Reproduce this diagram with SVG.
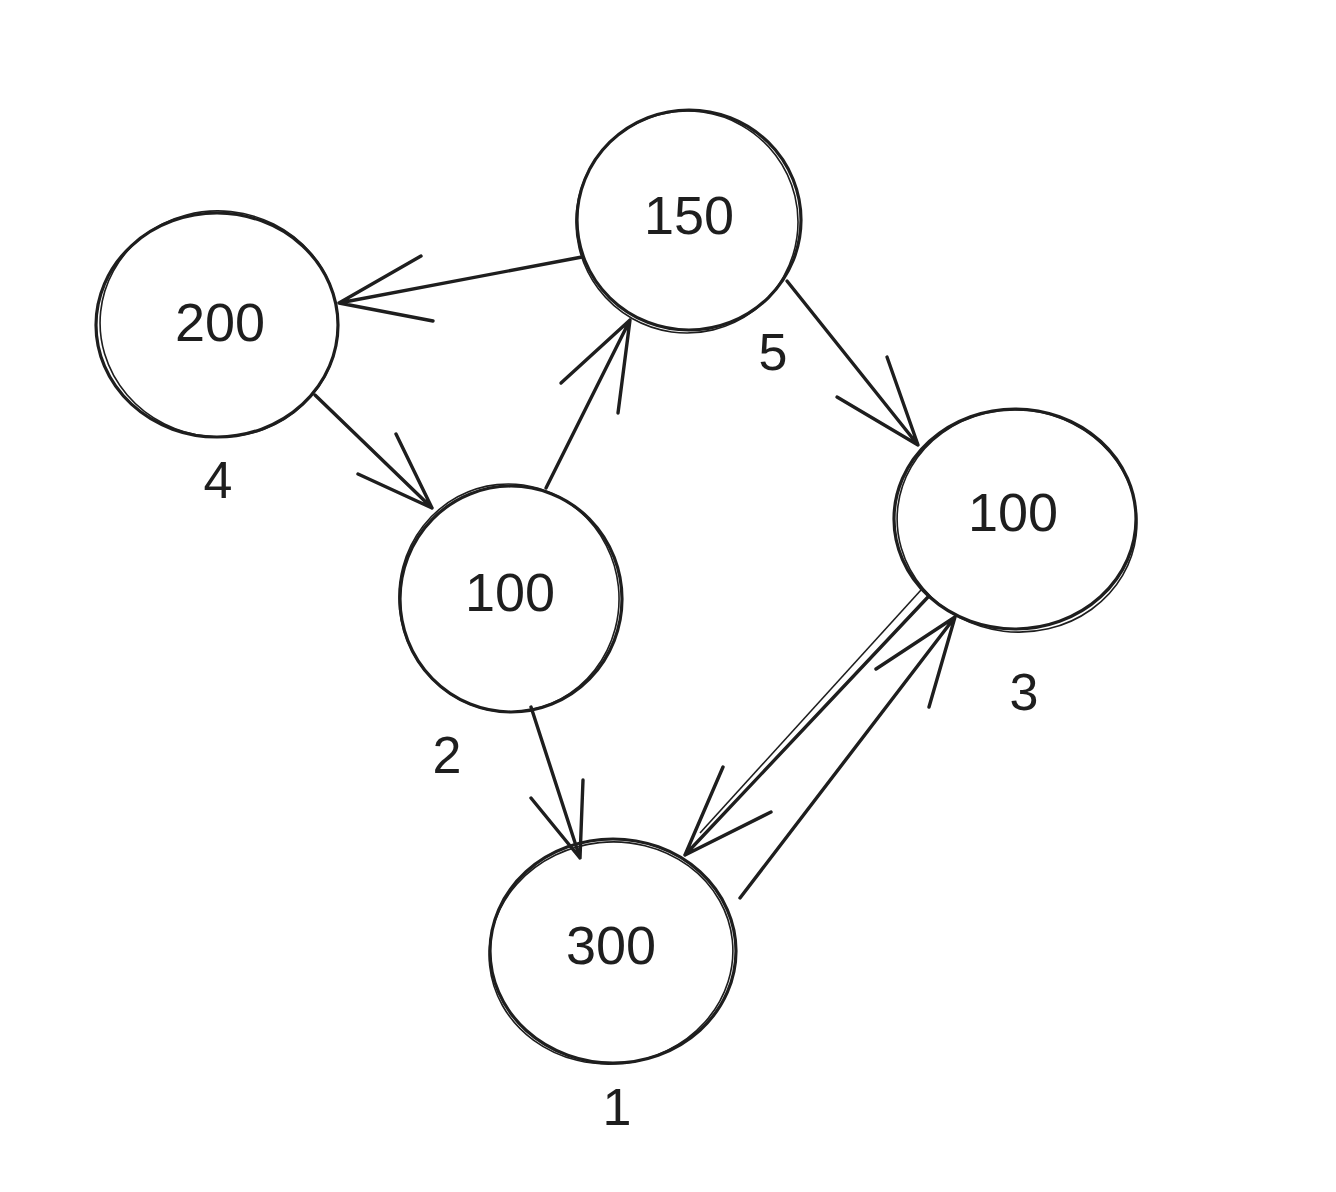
<svg xmlns="http://www.w3.org/2000/svg" width="1336" height="1192" viewBox="0 0 1336 1192">
<style>
.c{fill:none;stroke:#1e1e1e;stroke-width:3.2;stroke-linecap:round}
.c2{fill:none;stroke:#1e1e1e;stroke-width:1.6}
.e{fill:none;stroke:#1e1e1e;stroke-width:3.4;stroke-linecap:round;stroke-linejoin:round}
.t{font-family:"Liberation Sans","DejaVu Sans",sans-serif;font-size:54px;fill:#1e1e1e;text-anchor:middle}
.l{font-family:"Liberation Sans","DejaVu Sans",sans-serif;font-size:52px;fill:#1e1e1e;text-anchor:middle}
</style>
<rect width="1336" height="1192" fill="#ffffff"/>
<g id="edges">
<path class="e" d="M582 257 L339 303 M421 256 L339 303 L433 321"/>
<path class="e" d="M315 395 L432 508 M358 474 L432 508 L396 434"/>
<path class="e" d="M546 488 L630 320 M561 383 L630 320 L618 413"/>
<path class="e" d="M787 281 L918 445 M837 397 L918 445 L887 357"/>
<path class="e" d="M531 707 L580 858 M531 798 L580 858 L583 780"/>
<path class="e" d="M928 597 L685 855 M723 767 L685 855 L771 812"/>
<path class="c2" d="M921 590 L700 833"/>
<path class="e" d="M740 898 L955 617 M876 669 L955 617 L929 707"/>
</g>
<g id="n5">
<ellipse class="c" cx="689" cy="220" rx="112" ry="110"/>
<ellipse class="c2" cx="687" cy="222" rx="111" ry="111" transform="rotate(8 687 222)"/>
<text class="t" x="689" y="234">150</text>
</g>
<g id="n4">
<ellipse class="c" cx="217" cy="325" rx="121" ry="112"/>
<ellipse class="c2" cx="219" cy="324" rx="119" ry="113" transform="rotate(6 219 324)"/>
<text class="t" x="220" y="341">200</text>
</g>
<g id="n2">
<ellipse class="c" cx="511" cy="599" rx="111" ry="113"/>
<ellipse class="c2" cx="509" cy="598" rx="110" ry="114" transform="rotate(-6 509 598)"/>
<text class="t" x="510" y="611">100</text>
</g>
<g id="n3">
<ellipse class="c" cx="1015" cy="519" rx="121" ry="110"/>
<ellipse class="c2" cx="1017" cy="521" rx="120" ry="111" transform="rotate(7 1017 521)"/>
<text class="t" x="1013" y="531">100</text>
</g>
<g id="n1">
<ellipse class="c" cx="613" cy="951" rx="123" ry="112"/>
<ellipse class="c2" cx="611" cy="953" rx="122" ry="111" transform="rotate(-6 611 953)"/>
<text class="t" x="611" y="964">300</text>
</g>
<g id="labels">
<text class="l" x="218" y="498">4</text>
<text class="l" x="773" y="370">5</text>
<text class="l" x="447" y="773">2</text>
<text class="l" x="1024" y="710">3</text>
<text class="l" x="617" y="1125">1</text>
</g>
</svg>
